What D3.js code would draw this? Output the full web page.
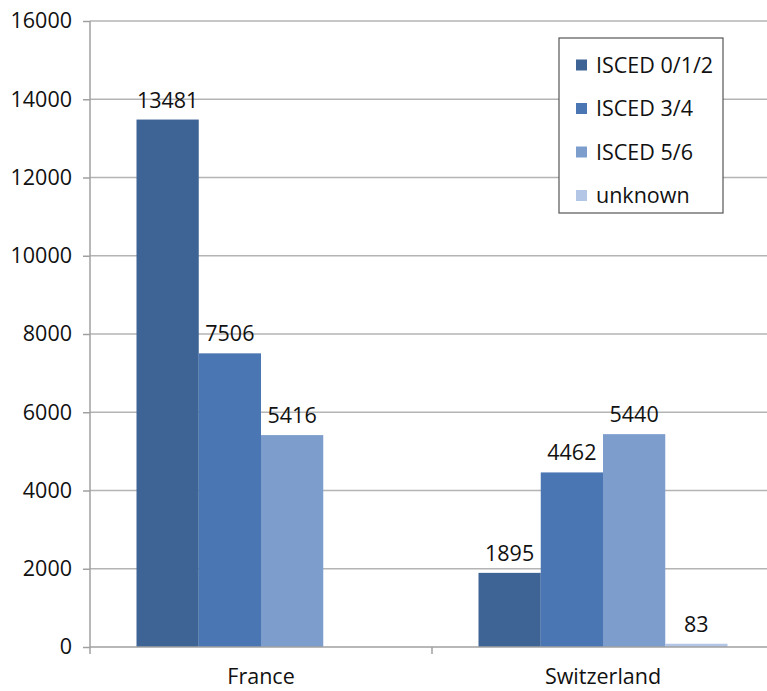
<!DOCTYPE html>
<html>
<head>
<meta charset="utf-8">
<script src="https://cdn.jsdelivr.net/npm/d3@7"></script>
<style>
  html, body { margin: 0; padding: 0; background: #fff; }
  svg { display: block; font-family: "Open Sans", "Noto Sans", sans-serif; }
</style>
</head>
<body>
<svg id="chart" width="767" height="691"></svg>
<script>
// Countries along the x axis
const categories = ["France", "Switzerland"];
// Education levels (one bar per level in each country)
const seriesNames = ["ISCED 0/1/2", "ISCED 3/4", "ISCED 5/6", "unknown"];
// Values per level, in country order (null = not reported)
const isced012 = [13481, 1895];
const isced34 = [7506, 4462];
const isced56 = [5416, 5440];
const unknown = [null, 83];
const yTicks = [0, 2000, 4000, 6000, 8000, 10000, 12000, 14000, 16000];
const colors = ["#3e6395", "#4a77b3", "#7d9dcd", "#b3c6e6"];

const seriesValues = [isced012, isced34, isced56, unknown];

const fontSize = 21.5;
const textColor = "#111";
const fontFamily = "'Open Sans', 'Noto Sans', sans-serif";

const svg = d3.select("#chart");
const plotLeft = 90, plotRight = 774, plotTop = 21, plotBottom = 647;

const x = d3.scaleBand().domain(categories).range([plotLeft, plotRight]).paddingInner(0).paddingOuter(0);
const inner = d3.scaleBand().domain(seriesNames)
  .range([46.5, x.bandwidth() - 46.5]).paddingInner(0).paddingOuter(0);
const y = d3.scaleLinear().domain([0, 16000]).range([plotBottom, plotTop]);

// Horizontal gridlines
svg.append("g")
  .selectAll("line")
  .data(yTicks.filter(d => d > 0))
  .join("line")
  .attr("x1", plotLeft).attr("x2", 767)
  .attr("y1", d => y(d)).attr("y2", d => y(d))
  .attr("stroke", "#b4b4b4").attr("stroke-width", 1.5);

// Bars
const rows = [];
categories.forEach((c, ci) => {
  seriesNames.forEach((s, si) => {
    const v = seriesValues[si][ci];
    if (v !== null) rows.push({ c, s, v, color: colors[si] });
  });
});

svg.append("g")
  .selectAll("rect")
  .data(rows)
  .join("rect")
  .attr("x", d => x(d.c) + inner(d.s))
  .attr("width", inner.bandwidth())
  .attr("y", d => y(d.v))
  .attr("height", d => y(0) - y(d.v))
  .attr("fill", d => d.color);

// Value labels above bars
svg.append("g")
  .selectAll("text")
  .data(rows)
  .join("text")
  .attr("x", d => x(d.c) + inner(d.s) + inner.bandwidth() / 2)
  .attr("y", d => y(d.v) - 12)
  .attr("text-anchor", "middle")
  .attr("font-size", fontSize)
  .attr("fill", textColor)
  .text(d => d.v);

// Y axis
const yAxis = svg.append("g")
  .attr("transform", `translate(${plotLeft},0)`)
  .call(d3.axisLeft(y).tickValues(yTicks).tickSize(7).tickPadding(11).tickFormat(d3.format("d")));
yAxis.select(".domain").attr("stroke", "#a0a0a0").attr("stroke-width", 1.5)
  .attr("d", `M0,${plotTop}V${plotBottom + 7}`);
yAxis.selectAll(".tick line").attr("stroke", "#a0a0a0").attr("stroke-width", 1.5);
yAxis.selectAll(".tick text").attr("font-size", fontSize).attr("fill", textColor)
  .attr("font-family", fontFamily);

// X axis
const xAxis = svg.append("g")
  .attr("transform", `translate(0,${plotBottom})`)
  .call(d3.axisBottom(x).tickSize(0).tickPadding(22));
xAxis.select(".domain").attr("stroke", "#a0a0a0").attr("stroke-width", 1.5)
  .attr("d", `M${plotLeft},0H${plotRight}`);
xAxis.selectAll(".tick text").attr("font-size", fontSize).attr("fill", textColor)
  .attr("font-family", fontFamily);
// Separators between categories
xAxis.append("g")
  .selectAll("line")
  .data(categories.slice(1))
  .join("line")
  .attr("x1", d => x(d)).attr("x2", d => x(d))
  .attr("y1", 0).attr("y2", 7)
  .attr("stroke", "#a0a0a0").attr("stroke-width", 1.5);

// Legend
const legend = svg.append("g").attr("transform", "translate(559,38)");
legend.append("rect")
  .attr("width", 164).attr("height", 175)
  .attr("fill", "#fff").attr("stroke", "#555").attr("stroke-width", 1.2);
const item = legend.selectAll("g.item")
  .data(seriesNames)
  .join("g")
  .attr("class", "item")
  .attr("transform", (d, i) => `translate(0,${27 + i * 43.5})`);
item.append("rect")
  .attr("x", 17).attr("y", -5.5).attr("width", 11).attr("height", 11)
  .attr("fill", (d, i) => colors[i]);
item.append("text")
  .attr("x", 37).attr("y", 7.5)
  .attr("font-size", fontSize).attr("fill", textColor)
  .text(d => d);
</script>
</body>
</html>
